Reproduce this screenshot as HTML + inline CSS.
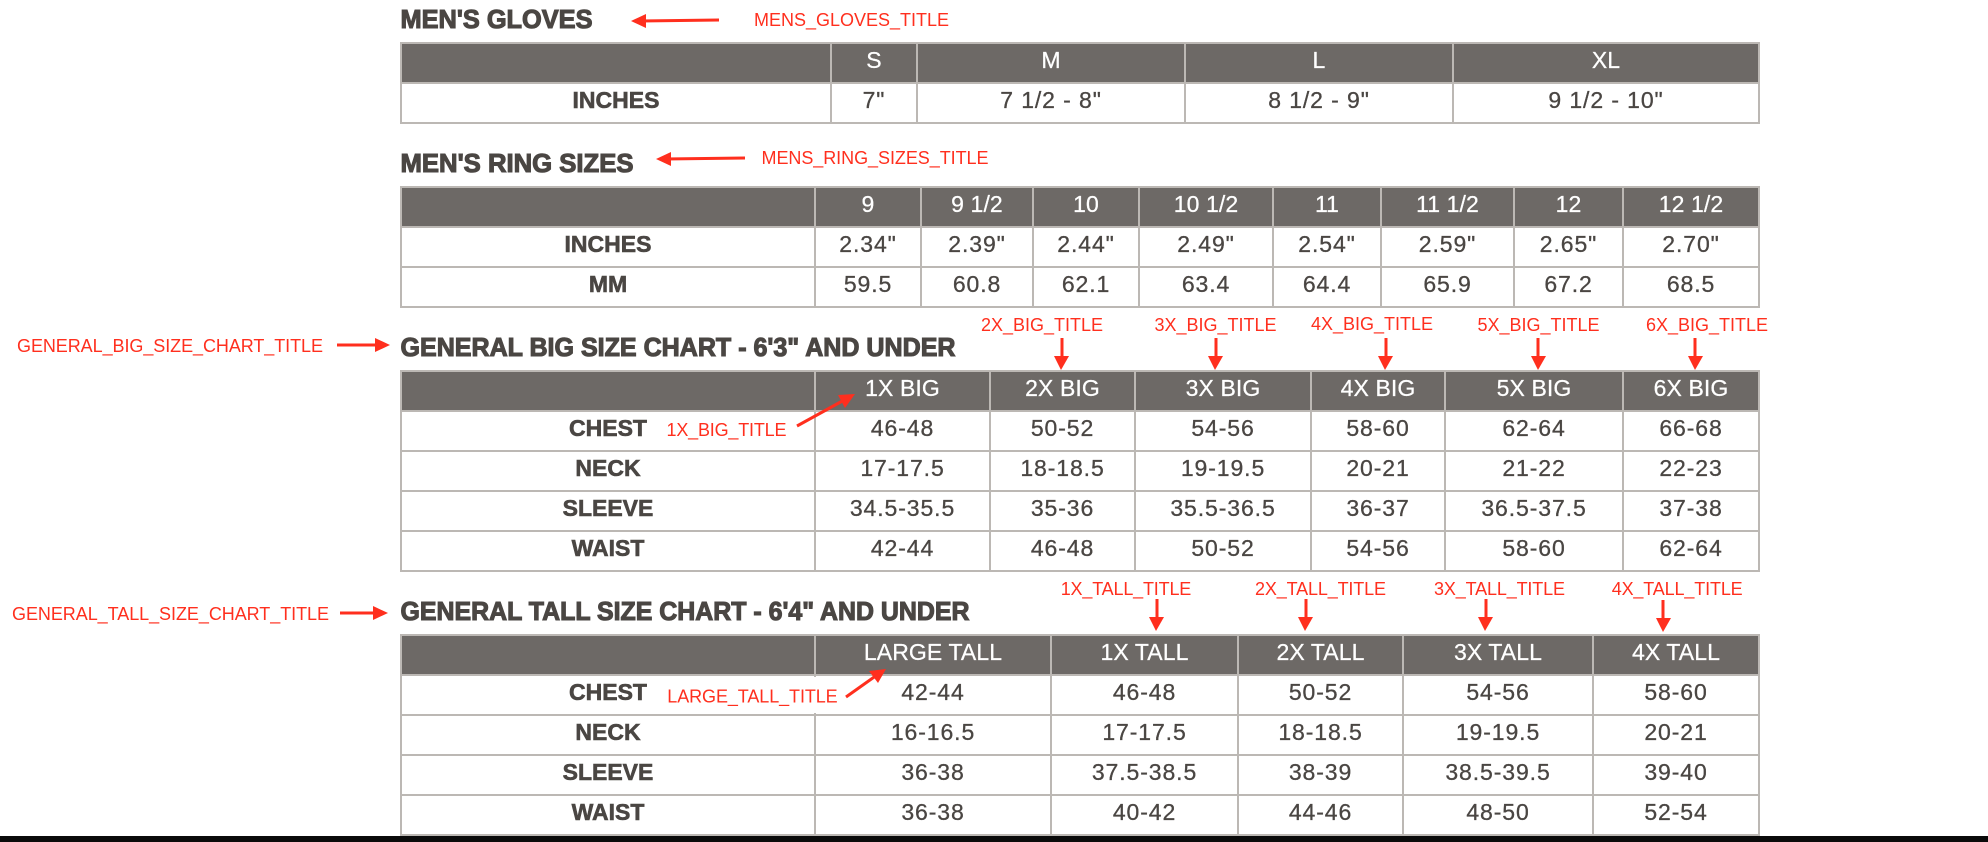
<!DOCTYPE html>
<html lang="en">
<head>
<meta charset="utf-8">
<title>Men's Size Charts</title>
<style>
html,body{margin:0;padding:0;background:#fff;}
body{position:relative;width:1988px;height:842px;overflow:hidden;font-family:"Liberation Sans",Arial,sans-serif;}
table{position:absolute;left:400px;width:1358px;border-collapse:collapse;table-layout:fixed;border:2px solid #bcb8b4;}
td,th{border:2px solid #bcb8b4;padding:0 0 7px 0;text-align:center;vertical-align:middle;line-height:24px;font-size:23px;box-sizing:border-box;}
tr{height:40px;}
th{background:#6d6966;color:#fff;font-weight:400;letter-spacing:.1px;-webkit-text-stroke:.25px #fff;}
td{color:#4a4643;letter-spacing:.9px;background:#fff;-webkit-text-stroke:.3px #4a4643;}
td.row-head{font-weight:700;letter-spacing:0;-webkit-text-stroke:.6px #4a4643;}
svg{position:absolute;left:0;top:0;}
.t{font-family:"Liberation Sans",Arial,sans-serif;font-weight:700;font-size:26px;fill:#4a4643;stroke:#4a4643;stroke-width:1.1px;}
.a{font-family:"Liberation Sans",Arial,sans-serif;font-size:18px;fill:#ff2f1e;}
.l{stroke:#ff2f1e;stroke-width:3;fill:none;}
.h{fill:#ff2f1e;}
#band{position:absolute;left:0;top:836px;width:1988px;height:6px;background:#0a0a0a;}
</style>
</head>
<body>

<table style="top:42px">
<colgroup><col style="width:430px"><col style="width:86px"><col style="width:268px"><col style="width:268px"><col style="width:306px"></colgroup>
<tr><th></th><th>S</th><th>M</th><th>L</th><th>XL</th></tr>
<tr><td class="row-head">INCHES</td><td>7"</td><td>7 1/2 - 8"</td><td>8 1/2 - 9"</td><td>9 1/2 - 10"</td></tr>
</table>

<table style="top:186px">
<colgroup><col style="width:414px"><col style="width:106px"><col style="width:112px"><col style="width:106px"><col style="width:134px"><col style="width:108px"><col style="width:133px"><col style="width:109px"><col style="width:136px"></colgroup>
<tr><th></th><th>9</th><th>9 1/2</th><th>10</th><th>10 1/2</th><th>11</th><th>11 1/2</th><th>12</th><th>12 1/2</th></tr>
<tr><td class="row-head">INCHES</td><td>2.34"</td><td>2.39"</td><td>2.44"</td><td>2.49"</td><td>2.54"</td><td>2.59"</td><td>2.65"</td><td>2.70"</td></tr>
<tr><td class="row-head">MM</td><td>59.5</td><td>60.8</td><td>62.1</td><td>63.4</td><td>64.4</td><td>65.9</td><td>67.2</td><td>68.5</td></tr>
</table>

<table style="top:370px">
<colgroup><col style="width:414px"><col style="width:175px"><col style="width:145px"><col style="width:176px"><col style="width:134px"><col style="width:178px"><col style="width:136px"></colgroup>
<tr><th></th><th>1X BIG</th><th>2X BIG</th><th>3X BIG</th><th>4X BIG</th><th>5X BIG</th><th>6X BIG</th></tr>
<tr><td class="row-head">CHEST</td><td>46-48</td><td>50-52</td><td>54-56</td><td>58-60</td><td>62-64</td><td>66-68</td></tr>
<tr><td class="row-head">NECK</td><td>17-17.5</td><td>18-18.5</td><td>19-19.5</td><td>20-21</td><td>21-22</td><td>22-23</td></tr>
<tr><td class="row-head">SLEEVE</td><td>34.5-35.5</td><td>35-36</td><td>35.5-36.5</td><td>36-37</td><td>36.5-37.5</td><td>37-38</td></tr>
<tr><td class="row-head">WAIST</td><td>42-44</td><td>46-48</td><td>50-52</td><td>54-56</td><td>58-60</td><td>62-64</td></tr>
</table>

<table style="top:634px">
<colgroup><col style="width:414px"><col style="width:236px"><col style="width:187px"><col style="width:165px"><col style="width:190px"><col style="width:166px"></colgroup>
<tr><th></th><th>LARGE TALL</th><th>1X TALL</th><th>2X TALL</th><th>3X TALL</th><th>4X TALL</th></tr>
<tr><td class="row-head">CHEST</td><td>42-44</td><td>46-48</td><td>50-52</td><td>54-56</td><td>58-60</td></tr>
<tr><td class="row-head">NECK</td><td>16-16.5</td><td>17-17.5</td><td>18-18.5</td><td>19-19.5</td><td>20-21</td></tr>
<tr><td class="row-head">SLEEVE</td><td>36-38</td><td>37.5-38.5</td><td>38-39</td><td>38.5-39.5</td><td>39-40</td></tr>
<tr><td class="row-head">WAIST</td><td>36-38</td><td>40-42</td><td>44-46</td><td>48-50</td><td>52-54</td></tr>
</table>

<div id="band"></div>

<svg width="1988" height="842" viewBox="0 0 1988 842">
  <text class="t" x="400.5" y="28" textLength="192" lengthAdjust="spacingAndGlyphs">MEN'S GLOVES</text>
  <text class="t" x="400.5" y="172" textLength="233" lengthAdjust="spacingAndGlyphs">MEN'S RING SIZES</text>
  <text class="t" x="400.5" y="356" textLength="555" lengthAdjust="spacingAndGlyphs">GENERAL BIG SIZE CHART - 6'3" AND UNDER</text>
  <text class="t" x="400.5" y="620" textLength="569" lengthAdjust="spacingAndGlyphs">GENERAL TALL SIZE CHART - 6'4" AND UNDER</text>

  <rect x="663" y="677" width="180" height="36" fill="#fff"/>

  <text class="a" x="754" y="26" textLength="195">MENS_GLOVES_TITLE</text>
  <g><line class="l" x1="719" y1="20" x2="640" y2="21"/><polygon class="h" points="631,21 646,14 646,28"/></g>
  <text class="a" x="761.5" y="164" textLength="227">MENS_RING_SIZES_TITLE</text>
  <g><line class="l" x1="745" y1="158" x2="665" y2="159"/><polygon class="h" points="656,159 671,152 671,166"/></g>
  <text class="a" x="17" y="352" textLength="306">GENERAL_BIG_SIZE_CHART_TITLE</text>
  <g><line class="l" x1="337" y1="345" x2="380" y2="345"/><polygon class="h" points="390,345 375,338 375,352"/></g>
  <text class="a" x="12" y="620" textLength="317">GENERAL_TALL_SIZE_CHART_TITLE</text>
  <g><line class="l" x1="340" y1="613" x2="378" y2="613"/><polygon class="h" points="388,613 373,606 373,620"/></g>

  <text class="a" x="666.5" y="436" textLength="120">1X_BIG_TITLE</text>
  <g><line class="l" x1="797" y1="426" x2="846" y2="399"/><polygon class="h" points="855,394 838,395 845,408"/></g>
  <text class="a" x="981" y="331" textLength="122">2X_BIG_TITLE</text>
  <g><line class="l" x1="1062" y1="338" x2="1062" y2="358"/><polygon class="h" points="1061,370 1054,356 1069,356"/></g>
  <text class="a" x="1154.5" y="331" textLength="122">3X_BIG_TITLE</text>
  <g><line class="l" x1="1216" y1="338" x2="1216" y2="358"/><polygon class="h" points="1215,370 1208,356 1223,356"/></g>
  <text class="a" x="1311" y="330" textLength="122">4X_BIG_TITLE</text>
  <g><line class="l" x1="1386" y1="338" x2="1386" y2="358"/><polygon class="h" points="1385,370 1378,356 1393,356"/></g>
  <text class="a" x="1477.5" y="331" textLength="122">5X_BIG_TITLE</text>
  <g><line class="l" x1="1538" y1="338" x2="1538" y2="358"/><polygon class="h" points="1538,370 1531,356 1546,356"/></g>
  <text class="a" x="1646" y="331" textLength="122">6X_BIG_TITLE</text>
  <g><line class="l" x1="1695" y1="338" x2="1695" y2="358"/><polygon class="h" points="1695,370 1688,356 1703,356"/></g>

  <text class="a" x="667.3" y="702.7" textLength="170.4">LARGE_TALL_TITLE</text>
  <g><line class="l" x1="846" y1="697" x2="877" y2="675"/><polygon class="h" points="886,669 869,671 878,683"/></g>
  <text class="a" x="1060.7" y="595" textLength="130.6">1X_TALL_TITLE</text>
  <g><line class="l" x1="1157" y1="599" x2="1157" y2="619"/><polygon class="h" points="1156,631 1149,617 1164,617"/></g>
  <text class="a" x="1255" y="595" textLength="131">2X_TALL_TITLE</text>
  <g><line class="l" x1="1306" y1="599" x2="1306" y2="619"/><polygon class="h" points="1305,631 1298,617 1313,617"/></g>
  <text class="a" x="1434" y="595" textLength="131">3X_TALL_TITLE</text>
  <g><line class="l" x1="1486" y1="599" x2="1486" y2="619"/><polygon class="h" points="1485,631 1478,617 1493,617"/></g>
  <text class="a" x="1611.7" y="595" textLength="131">4X_TALL_TITLE</text>
  <g><line class="l" x1="1663" y1="600" x2="1663" y2="620"/><polygon class="h" points="1663,632 1656,618 1671,618"/></g>
</svg>
</body>
</html>
